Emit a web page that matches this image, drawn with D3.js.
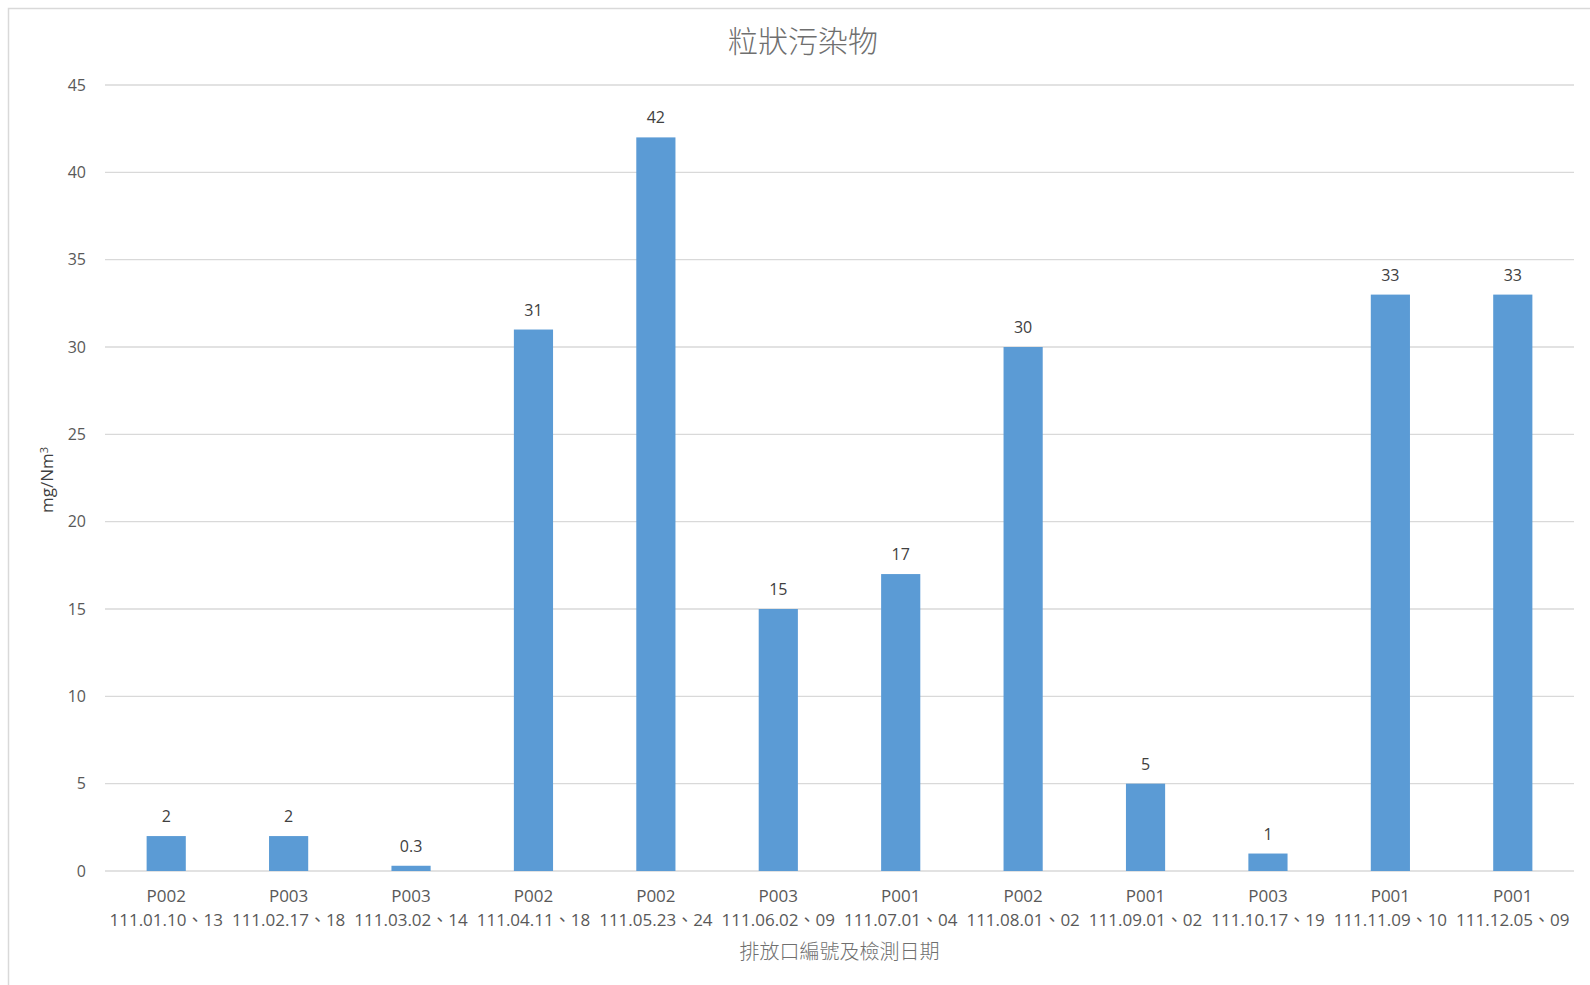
<!DOCTYPE html>
<html>
<head>
<meta charset="utf-8">
<script src="https://cdn.jsdelivr.net/npm/d3@7"></script>
<style>
  body { margin: 0; background: #fff; }
  svg text { font-family: "Open Sans", "Noto Sans CJK TC", sans-serif; }
  svg text.cjk { font-family: "Noto Sans CJK TC", sans-serif; }
</style>
</head>
<body>
<div id="my_dataviz"></div>
<script>
// outlet codes and sampling dates (ROC calendar)
var codes = ["P002","P003","P003","P002","P002","P003","P001","P002","P001","P003","P001","P001"];
var dates = ["111.01.10、13","111.02.17、18","111.03.02、14","111.04.11、18","111.05.23、24","111.06.02、09",
             "111.07.01、04","111.08.01、02","111.09.01、02","111.10.17、19","111.11.09、10","111.12.05、09"];
var values = [2, 2, 0.3, 31, 42, 15, 17, 30, 5, 1, 33, 33];
var yTicks = [0, 5, 10, 15, 20, 25, 30, 35, 40, 45];

var chartTitle = "粒狀污染物";
var xTitle = "排放口編號及檢測日期";

var W = 1590, H = 985;
var margin = {top: 85, right: 16, bottom: 114, left: 105};

var svg = d3.select("#my_dataviz")
    .append("svg")
        .attr("width", W)
        .attr("height", H);

// chart frame
svg.append("rect")
    .attr("x", 8.5).attr("y", 8.5)
    .attr("width", W + 10).attr("height", H + 10)
    .attr("fill", "none")
    .attr("stroke", "#d9d9d9")
    .attr("stroke-width", 1.5);

var idx = d3.range(values.length);

var xScale = d3.scaleBand()
    .domain(idx)
    .range([margin.left, W - margin.right])
    .paddingInner(0.68)
    .paddingOuter(0.34);

var yScale = d3.scaleLinear()
    .domain([0, 45])
    .range([H - margin.bottom, margin.top]);

// gridlines
svg.append("g")
    .selectAll("line")
    .data(yTicks)
    .enter()
        .append("line")
            .attr("x1", margin.left)
            .attr("x2", W - margin.right)
            .attr("y1", function(d) { return yScale(d); })
            .attr("y2", function(d) { return yScale(d); })
            .attr("stroke", "#d9d9d9")
            .attr("stroke-width", 1.3);

// y axis labels (no line, no ticks)
var yAxis = svg.append("g")
    .attr("transform", "translate(" + (margin.left - 8) + ",0)")
    .call(d3.axisLeft(yScale).tickValues(yTicks).tickSize(0).tickPadding(11));
yAxis.select(".domain").remove();
yAxis.selectAll("text")
    .attr("fill", "#595959")
    .style("font-family", "'Open Sans', sans-serif")
    .style("font-size", "16px");

// bars
svg.append("g")
    .selectAll("rect")
    .data(idx)
    .enter()
        .append("rect")
            .attr("x", function(i) { return xScale(i); })
            .attr("y", function(i) { return yScale(values[i]); })
            .attr("width", xScale.bandwidth())
            .attr("height", function(i) { return yScale(0) - yScale(values[i]); })
            .attr("fill", "#5b9bd5");

// data labels
svg.append("g")
    .selectAll("text")
    .data(idx)
    .enter()
        .append("text")
            .attr("x", function(i) { return xScale(i) + xScale.bandwidth() / 2; })
            .attr("y", function(i) { return yScale(values[i]) - 14; })
            .attr("text-anchor", "middle")
            .attr("fill", "#404040")
            .style("font-size", "16px")
            .text(function(i) { return values[i]; });

// x category labels, two lines
var xLab = svg.append("g")
    .selectAll("text")
    .data(idx)
    .enter()
        .append("text")
            .attr("text-anchor", "middle")
            .attr("fill", "#595959")
            .style("font-size", "17px");
xLab.append("tspan")
    .attr("x", function(i) { return xScale(i) + xScale.bandwidth() / 2; })
    .attr("y", 902)
    .text(function(i) { return codes[i]; });
xLab.append("tspan")
    .attr("x", function(i) { return xScale(i) + xScale.bandwidth() / 2; })
    .attr("y", 926)
    .text(function(i) { return dates[i]; });

// chart title
svg.append("text")
    .attr("class", "cjk")
    .attr("x", 803)
    .attr("y", 41)
    .attr("dy", "0.35em")
    .attr("text-anchor", "middle")
    .attr("fill", "#6f6f6f")
    .style("font-weight", 300)
    .style("font-size", "30px")
    .text(chartTitle);

// x axis title
svg.append("text")
    .attr("class", "cjk")
    .attr("x", (margin.left + W - margin.right) / 2)
    .attr("y", 952)
    .attr("dy", "0.35em")
    .attr("text-anchor", "middle")
    .attr("fill", "#6f6f6f")
    .style("font-weight", 300)
    .style("font-size", "20px")
    .text(xTitle);

// y axis title
var yt = svg.append("text")
    .attr("transform", "translate(47," + 480 + ") rotate(-90)")
    .attr("dy", "0.35em")
    .attr("text-anchor", "middle")
    .attr("fill", "#404040")
    .style("font-size", "17px");
yt.append("tspan").text("mg/Nm");
yt.append("tspan").attr("dy", "-0.45em").style("font-size", "11px").text("3");
</script>
</body>
</html>
